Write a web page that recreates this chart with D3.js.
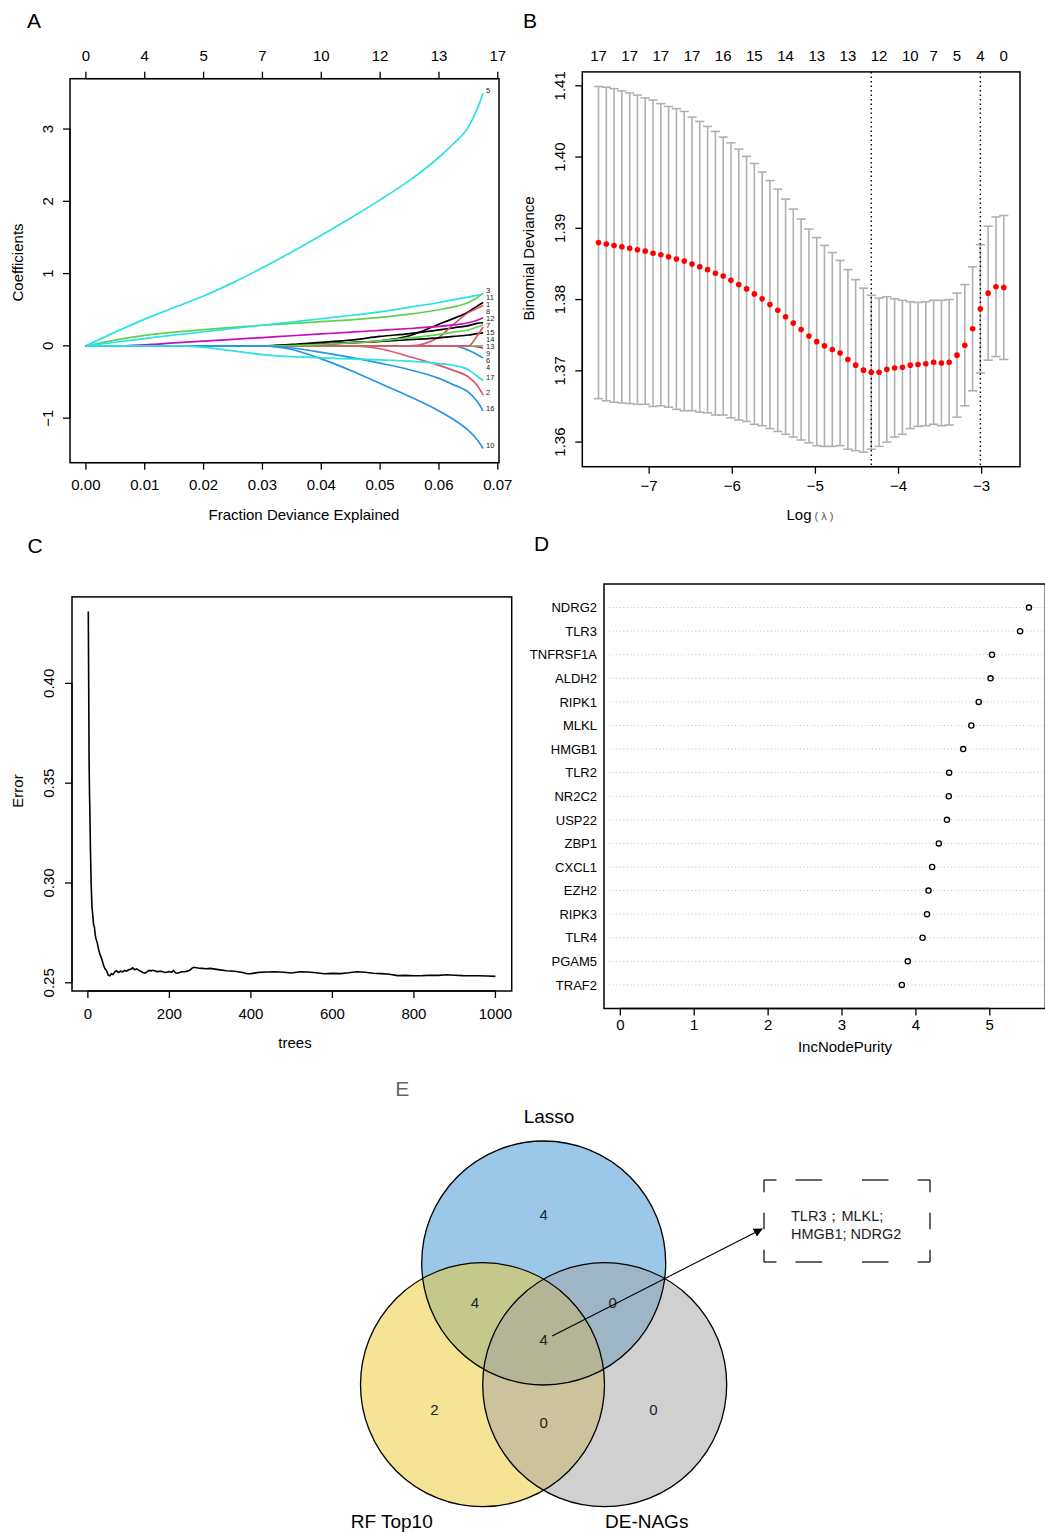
<!DOCTYPE html>
<html><head><meta charset="utf-8">
<script src="https://cdn.jsdelivr.net/npm/d3@7"></script>
<style>
body{margin:0;background:#fff}
text{font-family:"Liberation Sans",Arial,Helvetica,sans-serif;fill:#000}
</style>
</head><body>
<svg id="fig" width="1045" height="1533" xmlns="http://www.w3.org/2000/svg"></svg>
<script>
// ================= DATA =================
// Panel A : glmnet coefficient paths vs fraction deviance explained
const fracDev = [0,0.005,0.01,0.015,0.02,0.025,0.03,0.035,0.04,0.045,0.05,0.055,0.06,0.0625,0.065,0.0665,0.0675];
const coefV1  = [0,0,0,0,0,0,0,0.01,0.025,0.045,0.07,0.14,0.30,0.38,0.47,0.55,0.60];
const coefV2  = [0,0,0,0,0,0,0,0,0,0,-0.04,-0.15,-0.27,-0.34,-0.43,-0.55,-0.68];
const coefV3  = [0,0.08,0.145,0.19,0.225,0.255,0.285,0.31,0.335,0.36,0.395,0.44,0.50,0.54,0.60,0.67,0.73];
const coefV4  = [0,0,0,0,0,0,0,0,0,0,0,0,0,0,-0.06,-0.12,-0.17];
const coefV5  = [0,0.19,0.37,0.53,0.69,0.875,1.08,1.30,1.53,1.77,2.02,2.29,2.61,2.80,3.03,3.28,3.5];
const coefV6  = [0,0,0,0,0,0,0,0,0,0,0,0,0,0,0,-0.01,-0.03];
const coefV7  = [0,0,0,0,0,0,0,0.02,0.05,0.08,0.13,0.17,0.22,0.25,0.28,0.31,0.32];
const coefV8  = [0,0,0,0,0,0,0,0,0,0,0,0,0.12,0.30,0.46,0.52,0.56];
const coefV9  = [0,0,0,0,0,0,0,0,0,0,0,0,0,0,0,0,0.005];
const coefV10 = [0,0,0,0,0,0,0,-0.05,-0.18,-0.34,-0.52,-0.70,-0.90,-1.02,-1.17,-1.30,-1.42];
const coefV11 = [0,0.05,0.10,0.15,0.195,0.24,0.285,0.33,0.375,0.42,0.47,0.535,0.60,0.64,0.675,0.70,0.715];
const coefV12 = [0,0,0.015,0.04,0.065,0.09,0.115,0.14,0.165,0.19,0.215,0.24,0.27,0.29,0.32,0.355,0.39];
const coefV13 = [0,0,0,0,0,0,0,0.01,0.025,0.04,0.06,0.085,0.11,0.13,0.15,0.17,0.18];
const coefV14 = [0,0,0,0,0,0,0,0,0,0,0,0,0,0,0,0.14,0.26];
const coefV15 = [0,0,0,0,0,0,0,0.005,0.02,0.04,0.07,0.11,0.16,0.19,0.22,0.26,0.29];
const coefV16 = [0,0,0,0,0,0,0,-0.03,-0.09,-0.16,-0.24,-0.33,-0.45,-0.54,-0.64,-0.77,-0.90];
const coefV17 = [0,0,0,0,-0.02,-0.07,-0.12,-0.15,-0.165,-0.18,-0.195,-0.21,-0.245,-0.27,-0.33,-0.42,-0.48];
const coefPaths = [coefV1,coefV2,coefV3,coefV4,coefV5,coefV6,coefV7,coefV8,coefV9,coefV10,coefV11,coefV12,coefV13,coefV14,coefV15,coefV16,coefV17];
const topAtA = [0,0.01,0.02,0.03,0.04,0.05,0.06,0.07];
const topLabA = ["0","4","5","7","10","12","13","17"];
const bottomTicksA = [0,0.01,0.02,0.03,0.04,0.05,0.06,0.07];
const leftTicksA = [-1,0,1,2,3];
const rPalette = ["#000000","#DF536B","#61D04F","#2297E6","#28E2E5","#CD0BBC"];

// Panel B : cv.glmnet
const logLambda = [-7.609,-7.515,-7.422,-7.328,-7.234,-7.141,-7.047,-6.953,-6.859,-6.766,-6.672,-6.578,-6.484,-6.391,-6.297,-6.203,-6.109,-6.016,-5.922,-5.828,-5.734,-5.641,-5.547,-5.453,-5.359,-5.266,-5.172,-5.078,-4.984,-4.891,-4.797,-4.703,-4.609,-4.516,-4.422,-4.328,-4.234,-4.141,-4.047,-3.953,-3.859,-3.766,-3.672,-3.578,-3.484,-3.391,-3.297,-3.203,-3.109,-3.016,-2.922,-2.828,-2.734];
const cvm = [1.3880,1.3878,1.3876,1.3874,1.3872,1.3870,1.3868,1.3865,1.3863,1.3860,1.3857,1.3854,1.3850,1.3846,1.3842,1.3837,1.3833,1.3827,1.3821,1.3815,1.3808,1.3801,1.3793,1.3785,1.3776,1.3767,1.3758,1.3749,1.3741,1.3735,1.3730,1.3725,1.3716,1.3708,1.3701,1.3698,1.3698,1.3702,1.3704,1.3705,1.3708,1.3709,1.3710,1.3712,1.3711,1.3712,1.3722,1.3736,1.3759,1.3787,1.3809,1.3818,1.3817];
const cvsd = [0.0219,0.0220,0.0220,0.0219,0.0218,0.0217,0.0215,0.0215,0.0212,0.0211,0.0211,0.0210,0.0206,0.0204,0.0201,0.0199,0.0195,0.0193,0.0190,0.0186,0.0183,0.0178,0.0174,0.0170,0.0165,0.0160,0.0155,0.0150,0.0146,0.0141,0.0136,0.0130,0.0126,0.0120,0.0115,0.0108,0.0104,0.0102,0.0097,0.0094,0.0089,0.0087,0.0087,0.0087,0.0088,0.0088,0.0087,0.0085,0.0087,0.0090,0.0094,0.0098,0.0101];
const lambdaMin = -4.328, lambda1se = -3.016;
const topAtB = [-7.609,-7.234,-6.859,-6.484,-6.109,-5.734,-5.359,-4.984,-4.609,-4.234,-3.859,-3.578,-3.297,-3.016,-2.734];
const topLabB = ["17","17","17","17","16","15","14","13","13","12","10","7","5","4","0"];
const bottomTicksB = [-7,-6,-5,-4,-3];
const leftTicksB = [1.36,1.37,1.38,1.39,1.40,1.41];

// Panel C : random forest OOB error
const trees = [1,2,3,4,5,6,8,10,12,14,16,18,20,23,26,30,34,38,42,46,50,54,58,62,66,70,75,80,85,90,95,100,105,110,115,120,125,130,135,140,145,150,155,160,170,180,190,200,205,210,215,220,230,240,250,255,260,270,280,290,300,320,340,360,380,390,400,420,440,460,480,500,520,540,560,580,600,620,640,660,680,700,720,740,760,780,800,820,840,860,880,900,920,940,960,980,1000];
const oobErr = [0.436,0.40,0.36,0.345,0.335,0.32,0.30,0.288,0.284,0.279,0.278,0.274,0.272,0.270,0.267,0.264,0.262,0.259,0.257,0.256,0.2538,0.2535,0.2545,0.2542,0.2555,0.256,0.2552,0.2558,0.2555,0.2562,0.2558,0.2565,0.2568,0.2575,0.2565,0.257,0.2562,0.2558,0.2552,0.2548,0.2555,0.2562,0.256,0.2563,0.2556,0.2558,0.2552,0.2556,0.2552,0.2562,0.255,0.2548,0.2555,0.2556,0.2563,0.2572,0.2578,0.2574,0.2572,0.257,0.2572,0.2566,0.256,0.2558,0.2552,0.2545,0.2546,0.2552,0.2554,0.2555,0.2553,0.2549,0.2555,0.2554,0.255,0.2545,0.2547,0.2546,0.255,0.2555,0.2553,0.2548,0.2546,0.2543,0.2536,0.2537,0.2535,0.2536,0.2538,0.2537,0.254,0.2538,0.2536,0.2535,0.2535,0.2534,0.2532];
const bottomTicksC = [0,200,400,600,800,1000];
const leftTicksC = [0.25,0.30,0.35,0.40];

// Panel D : variable importance
const genes = ["NDRG2","TLR3","TNFRSF1A","ALDH2","RIPK1","MLKL","HMGB1","TLR2","NR2C2","USP22","ZBP1","CXCL1","EZH2","RIPK3","TLR4","PGAM5","TRAF2"];
const incNodePurity = [5.53,5.41,5.03,5.01,4.85,4.75,4.64,4.45,4.445,4.42,4.31,4.22,4.17,4.15,4.09,3.89,3.81];
const bottomTicksD = [0,1,2,3,4,5];

// Panel E : Venn
const vennSets = ["Lasso","RF Top10","DE-NAGs"];
const vennFills = ["#3791D1","#EDC92D","#A1A1A1"];
const vennRegions = ["Lasso","Lasso&RF","Lasso&DE","All","RF","RF&DE","DE"];
const vennCounts = [4,4,0,4,2,0,0];
const sharedGenesLines = ["TLR3\uFF1BMLKL;","HMGB1; NDRG2"];

// ================= DRAW =================
const svg = d3.select("#fig");
const ext = (lo,hi)=>{const e=(hi-lo)*0.04;return [lo-e,hi+e];};

function boxRect(x0,x1,y0,y1){
  svg.append("rect").attr("x",x0).attr("y",y0).attr("width",x1-x0).attr("height",y1-y0)
    .attr("fill","none").attr("stroke","#000").attr("stroke-width",1.5);
}
// R-style axis: line between first and last tick, outward ticks, labels
function rAxis(scale, side, pos, ticks, fmt, labOff, rotate, drawTicks=true){
  const g = svg.append("g");
  const p = ticks.map(t=>scale(t));
  const tl = 7;
  if(side==="bottom"||side==="top"){
    const s = side==="bottom"?1:-1;
    if(drawTicks){
      g.append("line").attr("x1",d3.min(p)).attr("x2",d3.max(p)).attr("y1",pos).attr("y2",pos).attr("stroke","#000").attr("stroke-width",1.3);
      g.selectAll("line.t").data(ticks).join("line").attr("class","t")
        .attr("x1",d=>scale(d)).attr("x2",d=>scale(d)).attr("y1",pos).attr("y2",pos+s*tl)
        .attr("stroke","#000").attr("stroke-width",1.3);
    }
    g.selectAll("text").data(ticks).join("text")
      .attr("x",d=>scale(d)).attr("y",pos+s*labOff).attr("dy","0.36em")
      .attr("text-anchor","middle").attr("font-size",15).text((d,i)=>fmt(d,i));
  } else {
    g.append("line").attr("y1",d3.min(p)).attr("y2",d3.max(p)).attr("x1",pos).attr("x2",pos).attr("stroke","#000").attr("stroke-width",1.3);
    g.selectAll("line.t").data(ticks).join("line").attr("class","t")
      .attr("y1",d=>scale(d)).attr("y2",d=>scale(d)).attr("x1",pos).attr("x2",pos-tl)
      .attr("stroke","#000").attr("stroke-width",1.3);
    g.selectAll("text").data(ticks).join("text")
      .attr("transform",d=>`translate(${pos-labOff},${scale(d)}) rotate(-90)`)
      .attr("dy","0.36em").attr("text-anchor","middle").attr("font-size",15).text((d,i)=>fmt(d,i));
  }
}
function vTitle(x,y,txt,size=15){
  svg.append("text").attr("transform",`translate(${x},${y}) rotate(-90)`).attr("dy","0.36em")
    .attr("text-anchor","middle").attr("font-size",size).text(txt);
}
function hText(x,y,txt,size=15,anchor="middle",fill="#000"){
  return svg.append("text").attr("x",x).attr("y",y).attr("dy","0.36em").attr("text-anchor",anchor)
    .attr("font-size",size).style("fill",fill).text(txt);
}

// ---------- Panel A ----------
{
  const allC = coefPaths.flat();
  const xA = d3.scaleLinear().domain(ext(0,d3.max(fracDev))).range([70,499]);
  const yA = d3.scaleLinear().domain(ext(d3.min(allC),d3.max(allC))).range([462.7,78.7]);
  const line = d3.line().x(d=>xA(d[0])).y(d=>yA(d[1])).curve(d3.curveMonotoneX);
  coefPaths.forEach((c,j)=>{
    svg.append("path").attr("d",line(fracDev.map((f,i)=>[f,c[i]])))
      .attr("fill","none").attr("stroke",rPalette[j%6]).attr("stroke-width",1.7);
  });
  // labels at path ends, nudged apart
  const lastX = fracDev[fracDev.length-1];
  const labs = coefPaths.map((c,j)=>({id:j+1,y:yA(c[c.length-1])-3})).sort((a,b)=>a.y-b.y);
  for(let i=1;i<labs.length;i++){ if(labs[i].y-labs[i-1].y<7) labs[i].y=labs[i-1].y+7; }
  svg.selectAll("text.lab").data(labs).join("text").attr("class","lab")
    .attr("x",xA(lastX)+3).attr("y",d=>d.y).attr("dy","0.36em").attr("font-size",7.5)
    .style("fill","#222").text(d=>d.id);
  boxRect(70,499,78.7,462.7);
  rAxis(xA,"bottom",462.7,bottomTicksA,d=>d3.format(".2f")(d),22.2);
  rAxis(xA,"top",78.7,topAtA,(d,i)=>topLabA[i],23);
  rAxis(yA,"left",70,leftTicksA,d=>d3.format("d")(d),22.4);
  hText(304,515,"Fraction Deviance Explained");
  vTitle(17.5,262.5,"Coefficients");
  hText(34,20,"A",21);
}

// ---------- Panel B ----------
{
  const lo = cvm.map((m,i)=>m-cvsd[i]), hi = cvm.map((m,i)=>m+cvsd[i]);
  const xB = d3.scaleLinear().domain(ext(d3.min(logLambda),d3.max(logLambda))).range([582.3,1020]);
  const yB = d3.scaleLinear().domain(ext(d3.min(lo),d3.max(hi))).range([466.7,71.9]);
  const g = svg.append("g");
  const idx = d3.range(logLambda.length);
  g.selectAll("line.bar").data(idx).join("line").attr("class","bar")
    .attr("x1",i=>xB(logLambda[i])).attr("x2",i=>xB(logLambda[i]))
    .attr("y1",i=>yB(lo[i])).attr("y2",i=>yB(hi[i])).attr("stroke","#B0B0B0").attr("stroke-width",1.6);
  [lo,hi].forEach(arr=>{
    g.selectAll(null).data(idx).join("line")
      .attr("x1",i=>xB(logLambda[i])-4.6).attr("x2",i=>xB(logLambda[i])+4.6)
      .attr("y1",i=>yB(arr[i])).attr("y2",i=>yB(arr[i])).attr("stroke","#B0B0B0").attr("stroke-width",1.6);
  });
  [lambdaMin,lambda1se].forEach(v=>{
    g.append("line").attr("x1",xB(v)).attr("x2",xB(v)).attr("y1",71.9).attr("y2",466.7)
      .attr("stroke","#000").attr("stroke-width",1.4).attr("stroke-dasharray","1.5,3");
  });
  g.selectAll("circle").data(idx).join("circle")
    .attr("cx",i=>xB(logLambda[i])).attr("cy",i=>yB(cvm[i])).attr("r",2.8).attr("fill","#FF0000");
  boxRect(582.3,1020,71.9,466.7);
  rAxis(xB,"bottom",466.7,bottomTicksB,d=>d3.format("d")(d).replace("-","\u2212"),18.6);
  rAxis(xB,"top",71.9,topAtB,(d,i)=>topLabB[i],16.5,false,false);
  rAxis(yB,"left",582.3,leftTicksB,d=>d3.format(".2f")(d),22.6);
  const t = svg.append("text").attr("x",810).attr("y",515).attr("dy","0.36em").attr("text-anchor","middle").attr("font-size",15);
  t.append("tspan").text("Log");
  t.append("tspan").attr("font-size",11).style("fill","#555").attr("dx",3).text("( \u03BB )");
  vTitle(529,258.4,"Binomial Deviance");
  hText(530,20,"B",21);
}

// ---------- Panel C ----------
{
  const xC = d3.scaleLinear().domain(ext(1,1000)).range([72,511.7]);
  const yC = d3.scaleLinear().domain(ext(d3.min(oobErr),d3.max(oobErr))).range([991,596.9]);
  svg.append("path").attr("d",d3.line().x((d,i)=>xC(trees[i])).y(d=>yC(d))(oobErr))
    .attr("fill","none").attr("stroke","#000").attr("stroke-width",1.6);
  boxRect(72,511.7,596.9,991);
  rAxis(xC,"bottom",991,bottomTicksC,d=>d3.format("d")(d),22.5);
  rAxis(yC,"left",72,leftTicksC,d=>d3.format(".2f")(d),23);
  hText(295,1043,"trees");
  vTitle(18,791,"Error");
  hText(35,545,"C",21);
}

// ---------- Panel D ----------
{
  const xD = d3.scaleLinear().domain(ext(0,d3.max(incNodePurity))).range([604,1045.3]);
  const yD = d3.scaleLinear().domain([0,genes.length+1]).range([584,1008.5]);
  const g = svg.append("g");
  g.selectAll("line.dl").data(genes).join("line").attr("class","dl")
    .attr("x1",609).attr("x2",1045).attr("y1",(d,i)=>yD(i+1)).attr("y2",(d,i)=>yD(i+1))
    .attr("stroke","#BDBDBD").attr("stroke-width",1).attr("stroke-dasharray","1,2.6");
  g.selectAll("circle").data(incNodePurity).join("circle")
    .attr("cx",d=>xD(d)).attr("cy",(d,i)=>yD(i+1)).attr("r",2.6)
    .attr("fill","none").attr("stroke","#000").attr("stroke-width",1.3);
  g.selectAll("text.gn").data(genes).join("text").attr("class","gn")
    .attr("x",597).attr("y",(d,i)=>yD(i+1)).attr("dy","0.36em").attr("text-anchor","end")
    .attr("font-size",13).text(d=>d);
  boxRect(604,1045.3,584,1008.5);
  rAxis(xD,"bottom",1008.5,bottomTicksD,d=>d3.format("d")(d),16.3);
  hText(845,1047,"IncNodePurity");
  hText(541.7,543.5,"D",21);
}

// ---------- Panel E ----------
{
  const cx = 543.7, cy = 1263, r = 122;
  const centers = [[cx,cy],[cx-61.2,cy+121.7],[cx+61,cy+121.7]];
  const g = svg.append("g");
  centers.forEach((c,i)=>{
    g.append("circle").attr("cx",c[0]).attr("cy",c[1]).attr("r",r)
      .attr("fill",vennFills[i]).attr("fill-opacity",0.5);
  });
  centers.forEach(c=>{
    g.append("circle").attr("cx",c[0]).attr("cy",c[1]).attr("r",r)
      .attr("fill","none").attr("stroke","#000").attr("stroke-width",1.3);
  });
  const regionOffsets = {"Lasso":[0,-48.7],"Lasso&RF":[-68.7,39.7],"Lasso&DE":[69,39.7],"All":[0,77],
                         "RF":[-109.4,147],"RF&DE":[0,159.7],"DE":[109.6,147]};
  vennRegions.forEach((rg,i)=>{
    hText(cx+regionOffsets[rg][0],cy+regionOffsets[rg][1],vennCounts[i],15,"middle","#222");
  });
  hText(cx+5.3,1116,vennSets[0],19);
  hText(391.7,1520.7,vennSets[1],19);
  hText(646.7,1520.7,vennSets[2],19);
  hText(402.3,1088,"E",21,"middle","#666");
  // arrow
  const defs = svg.append("defs");
  defs.append("marker").attr("id","ah").attr("viewBox","0 0 10 10").attr("refX",9).attr("refY",5)
    .attr("markerWidth",9).attr("markerHeight",9).attr("markerUnits","userSpaceOnUse").attr("orient","auto")
    .append("path").attr("d","M0,0 L10,5 L0,10 z").attr("fill","#000");
  svg.append("line").attr("x1",cx+8.5).attr("y1",cy+73).attr("x2",762).attr("y2",1229)
    .attr("stroke","#000").attr("stroke-width",1.1).attr("marker-end","url(#ah)");
  // dashed box
  const bx0=764,bx1=930,by0=1180,by1=1262;
  const W=bx1-bx0,H=by1-by0;
  const hSeg=[[0,0.075],[0.19,0.35],[0.59,0.75],[0.925,1]];
  const vSeg=[[0,0.15],[0.40,0.60],[0.85,1]];
  const bg = svg.append("g").attr("stroke","#000").attr("stroke-width",1.2);
  [by0,by1].forEach(yy=>hSeg.forEach(s=>bg.append("line").attr("x1",bx0+s[0]*W).attr("x2",bx0+s[1]*W).attr("y1",yy).attr("y2",yy)));
  [bx0,bx1].forEach(xx=>vSeg.forEach(s=>bg.append("line").attr("y1",by0+s[0]*H).attr("y2",by0+s[1]*H).attr("x1",xx).attr("x2",xx)));
  sharedGenesLines.forEach((l,i)=>hText(791,1216+i*18,l,14.5,"start","#222"));
}
</script>
</body></html>
